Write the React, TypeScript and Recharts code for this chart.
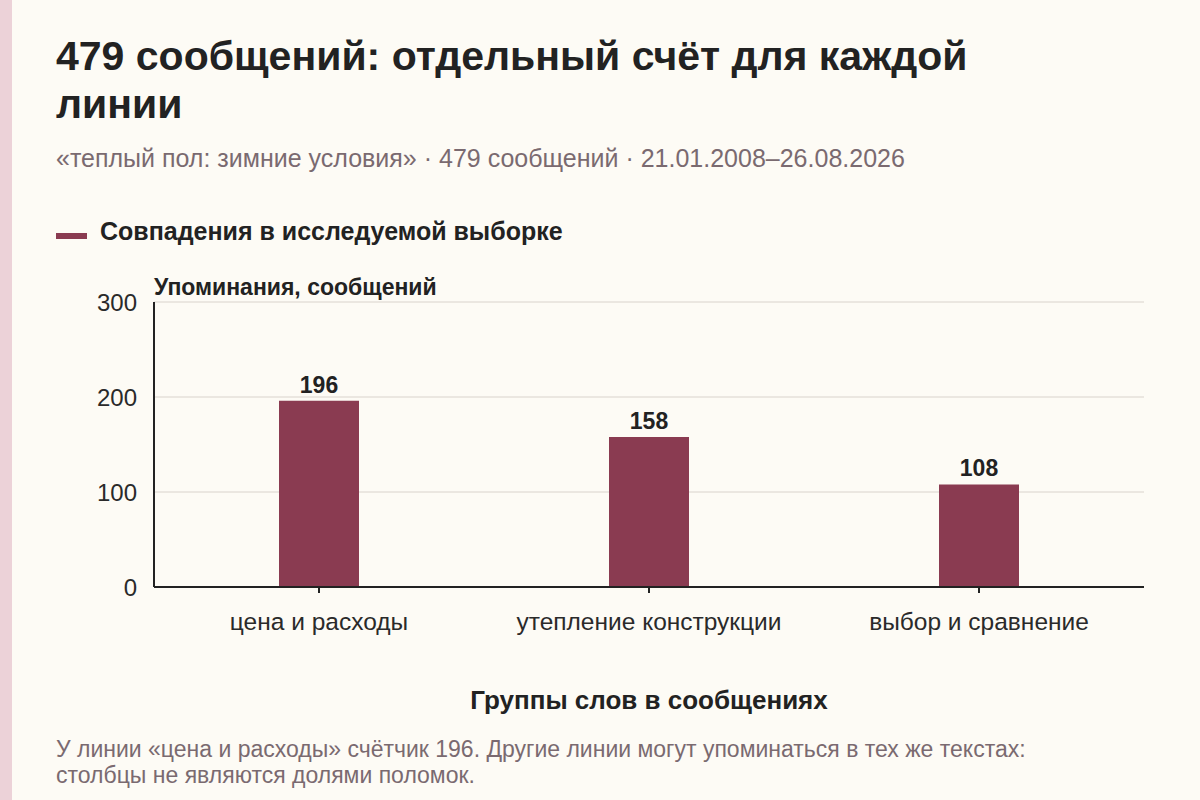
import React from 'react';
import {
  BarChart,
  Bar,
  XAxis,
  YAxis,
  CartesianGrid,
  LabelList,
} from 'recharts';

// Word groups and their mention counts
const categories = ['цена и расходы', 'утепление конструкции', 'выбор и сравнение'];
const mentions = [196, 158, 108];
const yTicks = [0, 100, 200, 300];

const FONT = '"Liberation Sans", Arial, sans-serif';
const BAR_COLOR = '#8a3b51';
const MUTED = '#7a6a70';
const INK = '#222';

const data = categories.map((name, i) => ({ name, value: mentions[i] }));

const App: React.FC = () => {
  return (
    <div
      style={{
        position: 'absolute',
        left: 0,
        top: 0,
        width: 1200,
        height: 800,
        background: '#fdfbf5',
        fontFamily: FONT,
        overflow: 'hidden',
      }}
    >
      {/* side strip */}
      <div style={{ position: 'absolute', left: 0, top: 0, width: 12, height: 800, background: '#ecd2d8' }} />

      <div
        style={{
          position: 'absolute',
          left: 56,
          top: 32,
          width: 940,
          fontSize: 41,
          lineHeight: '48px',
          fontWeight: 700,
          color: INK,
        }}
      >
        479 сообщений: отдельный счёт для каждой линии
      </div>

      <div style={{ position: 'absolute', left: 56, top: 144, fontSize: 25, color: MUTED, whiteSpace: 'nowrap' }}>
        «теплый пол: зимние условия» · 479 сообщений · 21.01.2008–26.08.2026
      </div>

      {/* legend */}
      <div style={{ position: 'absolute', left: 56, top: 233, width: 31, height: 6, background: BAR_COLOR }} />
      <div style={{ position: 'absolute', left: 100, top: 217, fontSize: 25, fontWeight: 700, color: INK, whiteSpace: 'nowrap' }}>
        Совпадения в исследуемой выборке
      </div>

      <div style={{ position: 'absolute', left: 154, top: 274, fontSize: 23, fontWeight: 700, color: INK, whiteSpace: 'nowrap' }}>
        Упоминания, сообщений
      </div>

      <div style={{ position: 'absolute', left: 0, top: 0 }}>
        <BarChart
          width={1200}
          height={800}
          data={data}
          margin={{ top: 302, right: 56, bottom: 183, left: 94 }}
        >
          <CartesianGrid vertical={false} stroke="#d9d3cc" strokeWidth={1} />
          <XAxis
            dataKey="name"
            height={30}
            axisLine={{ stroke: INK, strokeWidth: 2 }}
            tickLine={{ stroke: INK, strokeWidth: 2 }}
            tickSize={6}
            tickMargin={20}
            tick={{ fontSize: 24.5, fill: '#2a2a2a', fontFamily: FONT }}
            interval={0}
          />
          <YAxis
            width={60}
            domain={[0, 300]}
            ticks={yTicks}
            axisLine={{ stroke: INK, strokeWidth: 2 }}
            tickLine={false}
            tickSize={6}
            tickMargin={11}
            tick={{ fontSize: 24, fill: '#2a2a2a', fontFamily: FONT }}
          />
          <Bar dataKey="value" fill={BAR_COLOR} barSize={80} isAnimationActive={false}>
            <LabelList
              dataKey="value"
              position="top"
              offset={8}
              style={{ fontSize: 23, fontWeight: 700, fill: INK, fontFamily: FONT }}
            />
          </Bar>
        </BarChart>
      </div>

      <div
        style={{
          position: 'absolute',
          left: 154,
          width: 990,
          top: 685,
          textAlign: 'center',
          fontSize: 26,
          fontWeight: 700,
          color: INK,
        }}
      >
        Группы слов в сообщениях
      </div>

      <div
        style={{
          position: 'absolute',
          left: 56,
          top: 736,
          width: 1130,
          fontSize: 23,
          lineHeight: '26px',
          color: MUTED,
        }}
      >
        У линии «цена и расходы» счётчик 196. Другие линии могут упоминаться в тех же текстах:
        <br />
        столбцы не являются долями поломок.
      </div>
    </div>
  );
};

export default App;
